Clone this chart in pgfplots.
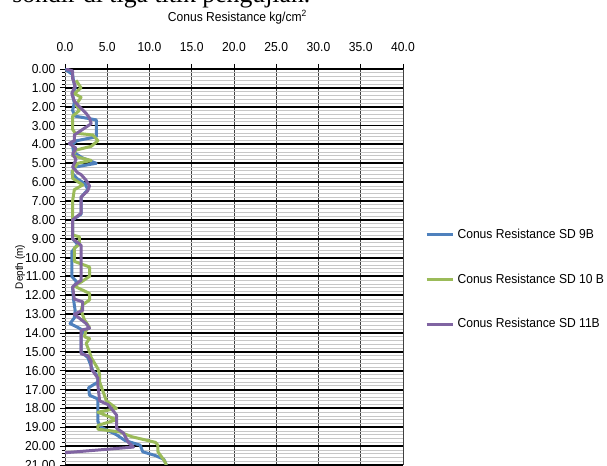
\documentclass[border=0pt]{standalone}
\usepackage{fontspec}
\setmainfont{Liberation Serif}
\setsansfont{Liberation Sans}[FakeStretch=0.93]
\usepackage{pgfplots}
\pgfplotsset{compat=1.18}
\usepackage{pgfplotstable}

\definecolor{sdblue}{HTML}{4F81BD}
\definecolor{sdgreen}{HTML}{9BBB59}
\definecolor{sdpurple}{HTML}{8064A2}

% conus resistance (kg/cm2) against depth (m)
\pgfplotstableread{
qc depth
0.0 0.0
0.9 0.3
1.0 0.6
1.2 1.0
0.9 1.4
1.1 1.8
0.9 2.2
1.2 2.5
3.7 2.7
3.7 3.6
1.4 3.8
0.9 4.0
1.0 4.4
2.0 4.7
3.7 5.0
1.2 5.2
0.8 5.5
1.4 5.8
2.4 6.1
2.7 6.4
1.9 6.8
1.9 7.7
0.9 8.0
0.9 9.0
1.5 9.3
0.8 9.7
0.8 11.0
1.4 11.3
0.9 11.6
1.0 12.2
1.2 12.8
1.1 13.2
0.6 13.5
1.5 13.7
2.3 13.9
1.9 14.1
1.9 15.0
2.7 15.3
3.3 16.0
3.9 16.3
3.9 16.6
2.8 16.9
2.9 17.3
3.9 17.5
3.9 18.7
4.3 19.0
6.1 19.4
7.1 19.7
8.9 19.95
9.2 20.3
10.7 20.5
11.7 20.7
12.0 21.0
}\sdnine

\pgfplotstableread{
qc depth
1.3 0.6
1.9 1.0
1.1 1.3
1.9 1.5
1.3 1.9
1.7 2.2
0.9 2.5
0.9 3.2
1.2 3.4
3.3 3.5
3.9 3.8
3.1 4.1
1.3 4.3
0.9 4.6
3.1 4.85
1.5 5.0
0.9 5.4
0.9 5.8
2.1 6.15
1.1 6.4
0.9 7.0
0.9 8.8
1.7 8.9
1.7 9.3
1.1 9.5
1.1 10.2
2.9 10.5
2.9 11.0
1.9 11.3
1.1 11.5
1.5 11.6
2.9 11.9
2.9 12.25
2.1 12.5
1.9 12.8
2.3 13.3
2.9 13.7
2.5 13.85
2.3 14.2
2.9 14.3
2.5 14.55
2.9 15.0
3.1 15.3
3.9 15.9
4.1 16.2
4.1 16.6
4.5 17.1
4.9 17.6
6.1 18.0
3.9 18.2
6.1 18.6
3.9 18.9
3.9 19.1
6.5 19.25
7.9 19.5
10.7 19.8
11.0 19.95
11.0 20.3
11.8 20.8
12.0 21.0
}\sdten

\pgfplotstableread{
qc depth
0.1 0.0
0.9 0.1
0.9 0.5
1.2 0.9
0.8 1.3
1.1 1.7
1.7 2.0
2.5 2.35
2.9 2.6
3.1 2.9
2.1 3.2
1.1 3.5
1.1 3.8
0.5 3.95
1.3 4.2
0.9 4.5
1.3 4.8
0.9 5.2
1.5 5.5
1.9 5.6
2.5 5.9
2.9 6.2
2.7 6.45
1.9 6.8
1.9 7.65
0.9 8.0
0.9 9.0
1.9 9.35
1.9 11.2
0.9 11.55
1.1 12.2
2.1 12.35
2.1 12.8
1.1 13.0
2.5 13.5
2.9 13.75
1.9 13.85
1.9 15.1
2.7 15.2
3.1 15.5
3.1 15.9
3.9 16.4
3.9 16.8
4.1 17.6
5.1 17.8
6.1 18.35
6.1 19.05
6.9 19.3
7.5 19.8
8.1 20.05
0.0 20.35
}\sdeleven

\newcommand{\chartfont}{\sffamily\fontsize{9.75}{11}\selectfont}

\begin{document}
\begin{tikzpicture}[x=0.75pt,y=0.75pt]
% last line of the page text above the figure, cut by the top edge
\node[anchor=base west, inner sep=0, font=\fontsize{19.3}{21}\selectfont] at (12,463) {sondir di tiga titik pengujian.};
\node[font=\chartfont] at (237.5,449) {Conus Resistance kg/cm\textsuperscript{2}};
\begin{axis}[
  at={(48.75pt,297.75pt)}, anchor=north west,
  scale only axis, width=253.5pt, height=297pt,
  xmin=0, xmax=40, ymin=0, ymax=21,
  y dir=reverse,
  axis line style={draw=none},
  xtick={0,5,...,40}, ytick={0,1,...,21},
  minor y tick num=4,
  xtick pos=right, xticklabel pos=right, ytick pos=left,
  tick align=outside,
  major tick length=3.75pt, minor tick length=2.5pt,
  every tick/.style={black, line width=0.6pt},
  xmajorgrids, ymajorgrids, yminorgrids,
  major x grid style={black!75, line width=0.6pt},
  major y grid style={black, line width=1.4pt},
  minor y grid style={black!22, line width=0.6pt},
  /pgf/number format/assume math mode=true,
  tick label style={font=\chartfont},
  xticklabel style={/pgf/number format/fixed, /pgf/number format/fixed zerofill, /pgf/number format/precision=1, yshift=6pt},
  yticklabel style={/pgf/number format/fixed, /pgf/number format/fixed zerofill, /pgf/number format/precision=2},
  ylabel={Depth (m)},
  ylabel style={font=\sffamily\fontsize{8}{9}\selectfont, at={(axis description cs:-0.133,0.5)}, anchor=center},
  legend style={at={(1.065,0.6035)}, anchor=north west, draw=none, fill=none,
    inner sep=0pt, font=\chartfont, row sep=21pt, cells={anchor=west}},
  legend image code/.code={\draw[#1] (0pt,0pt) -- (20pt,0pt);},
  every axis plot/.append style={line width=2.25pt, line join=round},
]
\addplot[sdblue] table[x=qc, y=depth] {\sdnine};
\addlegendentry{Conus Resistance SD 9B}
\addplot[sdgreen] table[x=qc, y=depth] {\sdten};
\addlegendentry{Conus Resistance SD 10 B}
\addplot[sdpurple] table[x=qc, y=depth] {\sdeleven};
\addlegendentry{Conus Resistance SD 11B}
\end{axis}
\pgfresetboundingbox
\useasboundingbox (0,0) rectangle (607,466);
\end{tikzpicture}
\end{document}
